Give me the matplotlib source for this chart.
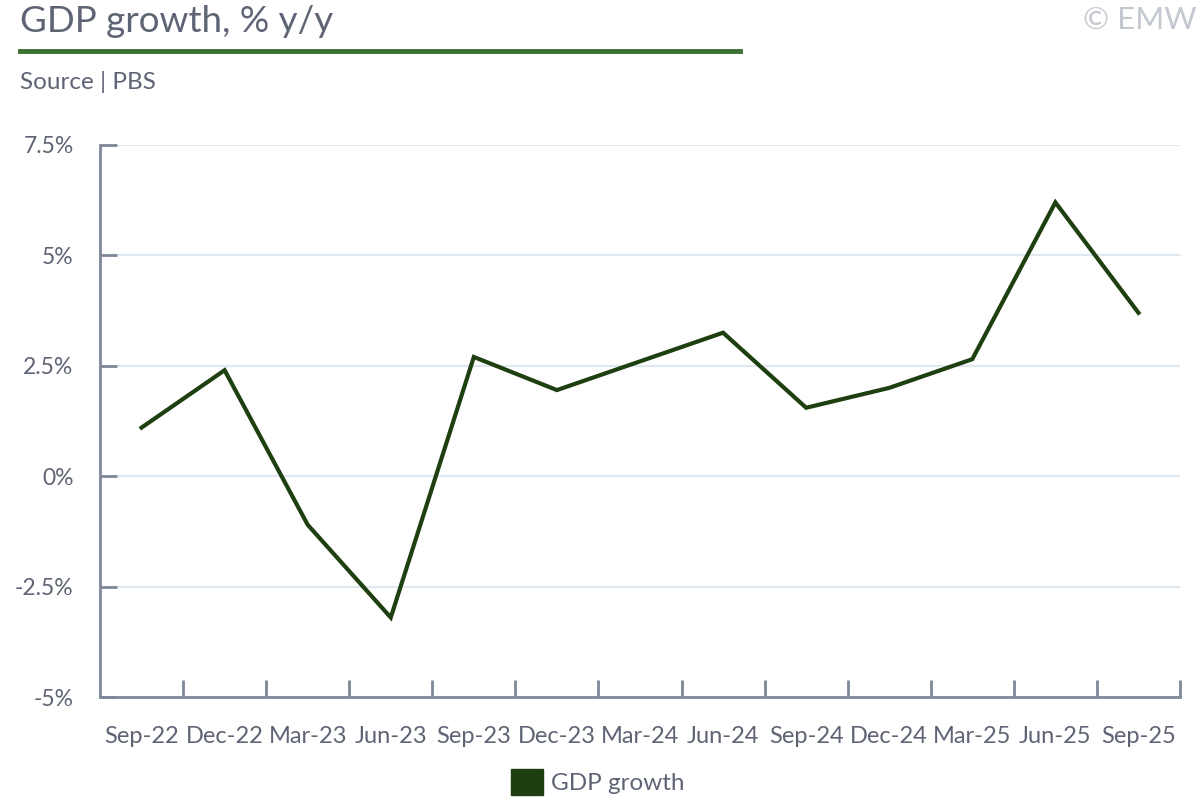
import matplotlib
matplotlib.use("Agg")
from matplotlib import pyplot as plt
from matplotlib.patches import Patch
from matplotlib.ticker import FuncFormatter, FixedLocator

# data
quarters = ['Sep-22', 'Dec-22', 'Mar-23', 'Jun-23', 'Sep-23', 'Dec-23', 'Mar-24',
            'Jun-24', 'Sep-24', 'Dec-24', 'Mar-25', 'Jun-25', 'Sep-25']
gdp_growth = [1.1, 2.4, -1.1, -3.2, 2.7, 1.95, 2.6, 3.25, 1.55, 2.0, 2.65, 6.2, 3.7]
y_ticks = [-5, -2.5, 0, 2.5, 5, 7.5]

text_col = '#5f6475'
axis_col = '#7f8799'
grid_col = '#dfe7f1'
line_col = '#1e3f10'

plt.rcParams['font.family'] = ['Lato', 'DejaVu Sans']

fig = plt.figure(figsize=(12, 8), dpi=100)
ax = fig.add_axes([100 / 1200, 1 - 697 / 800, 1080 / 1200, 552 / 800])

x = list(range(len(quarters)))
ax.plot(x, gdp_growth, color=line_col, lw=3, solid_joinstyle='miter')

ax.set_xlim(-0.5, len(quarters) - 0.5)
ax.set_ylim(-5, 7.5)

# y axis
ax.set_yticks(y_ticks)
ax.yaxis.set_major_formatter(FuncFormatter(lambda v, p: f'{v:g}%'))
ax.tick_params(axis='y', direction='in', length=12, width=2, color=axis_col,
               labelcolor=text_col, labelsize=16.5, pad=19)
for v in y_ticks[1:]:
    ax.axhline(v, xmin=12 / 1080, xmax=1, color=grid_col, lw=1.5, zorder=0)

# x axis: tick marks at boundaries, labels at centres
ax.xaxis.set_major_locator(FixedLocator([i + 0.5 for i in x]))
ax.xaxis.set_major_formatter(FuncFormatter(lambda v, p: ''))
ax.xaxis.set_minor_locator(FixedLocator(x))
ax.set_xticklabels(quarters, minor=True)
ax.tick_params(axis='x', which='major', direction='in', length=12, width=2, color=axis_col)
ax.tick_params(axis='x', which='minor', length=0, labelcolor=text_col, labelsize=17, pad=21)

for s in ['top', 'right']:
    ax.spines[s].set_visible(False)
for s in ['left', 'bottom']:
    ax.spines[s].set_color(axis_col)
    ax.spines[s].set_linewidth(2)

# header
fig.text(20 / 1200, 1 - 22 / 800, 'GDP growth, % y/y', fontsize=26.5, color=text_col,
         va='center', ha='left')
fig.add_artist(plt.Line2D([20 / 1200, 740 / 1200], [1 - 51 / 800, 1 - 51 / 800],
                          color='#3a7030', lw=3.5))
fig.text(20 / 1200, 1 - 82 / 800, 'Source | PBS', fontsize=17.5, color=text_col,
         va='center', ha='left')
fig.text(1197 / 1200, 1 - 20 / 800, '© EMW', fontsize=22.5, color='#c3c7cf',
         va='center', ha='right')

fig.legend(handles=[Patch(facecolor=line_col, edgecolor=line_col, label='GDP growth')],
           loc='center', bbox_to_anchor=(598 / 1200, 1 - 782 / 800), frameon=False,
           fontsize=17.5, labelcolor=text_col, handlelength=1.3, handleheight=1.3,
           handletextpad=0.35)

fig.savefig('out.png', dpi=100)
